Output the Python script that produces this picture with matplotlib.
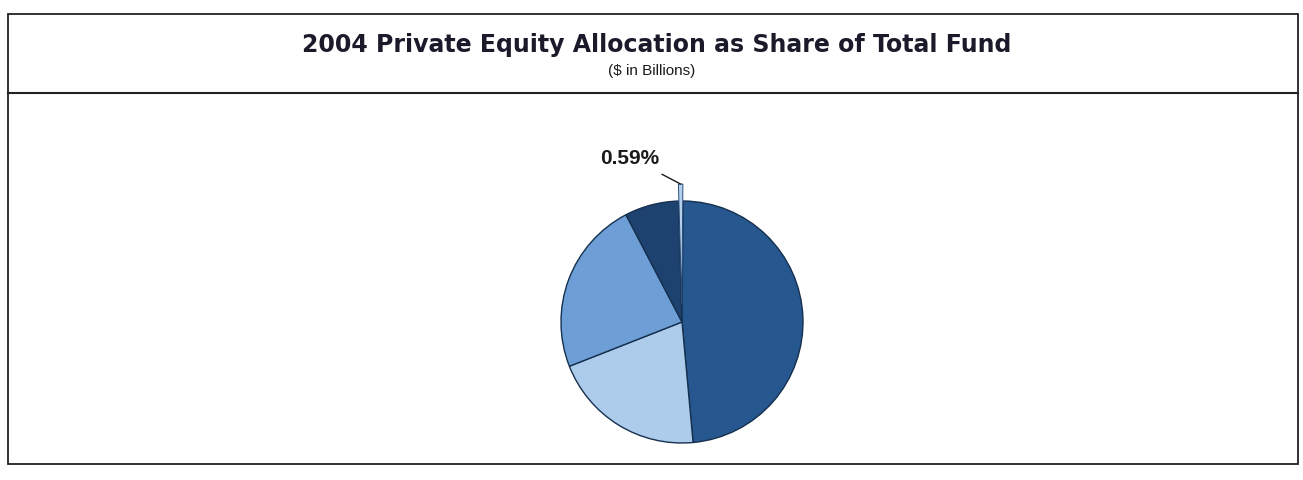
import numpy as np
import matplotlib.pyplot as plt
from matplotlib.patches import Rectangle
from matplotlib.lines import Line2D

# slices, clockwise from the top
shares = [48.4, 20.5, 23.3, 7.21, 0.59]
colors = ["#27578f", "#adcbea", "#6d9fd6", "#1e426f", "#b5d0ec"]
explode = [0, 0, 0, 0, 0.14]
label_text = "0.59%"

W, H = 1303, 481
fig = plt.figure(figsize=(W / 100, H / 100), dpi=100)
fig.patch.set_facecolor("white")


def px(x, y):
    """pixel (from top-left) -> figure fraction"""
    return x / W, 1 - y / H


# outer frame and header separator
x0, y0 = px(8, 465)
x1, y1 = px(1298, 15)
fig.add_artist(Rectangle((x0, y0), x1 - x0, y1 - y0, transform=fig.transFigure,
                         fill=False, edgecolor="#222222", linewidth=1.3))
hx0, hy = px(8, 94)
hx1, _ = px(1298, 94)
fig.add_artist(Line2D([hx0, hx1], [hy, hy], transform=fig.transFigure,
                      color="#222222", linewidth=1.5))

tx, ty = px(W / 2 + 5, 45)
fig.text(tx, ty, "2004 Private Equity Allocation as Share of Total Fund",
         ha="center", va="center", fontsize=17, fontweight="heavy",
         family="DejaVu Sans", color="#1a1a2a")
sx, sy = px(W / 2, 71)
fig.text(sx, sy, "($ in Billions)", ha="center", va="center", fontsize=11,
         family="Liberation Sans", color="#1a1a1a")

# pie axes: centre at (682, 323) px, radius 121 px
cx, cy, r = 682, 323, 121
left, top, right, bottom = 482, 97, 882, 463
ax = fig.add_axes([left / W, 1 - bottom / H, (right - left) / W, (bottom - top) / H])
wedges, _ = ax.pie(shares, colors=colors, explode=explode, startangle=89.5,
                   counterclock=False,
                   wedgeprops=dict(edgecolor="#16304f", linewidth=1.0))
wedges[-1].set_edgecolor("#2a4d78")
wedges[-1].set_linewidth(0.7)
ax.set_xlim((left - cx) / r, (right - cx) / r)
ax.set_ylim((cy - bottom) / r, (cy - top) / r)
ax.set_aspect("equal")
ax.axis("off")

# leader label for the tiny slice
w = wedges[-1]
mid = np.deg2rad((w.theta1 + w.theta2) / 2)
tip = (1 + explode[-1]) * np.cos(mid), (1 + explode[-1]) * np.sin(mid)
ax.annotate(label_text, xy=tip, xytext=(-0.43, 1.36), ha="center", va="center",
            fontsize=15, fontweight="bold", family="Liberation Sans",
            color="#1a1a1a",
            arrowprops=dict(arrowstyle="-", color="#1a1a1a", lw=1.0,
                            shrinkA=7, shrinkB=0))

fig.savefig("out.png", dpi=100, facecolor="white")
